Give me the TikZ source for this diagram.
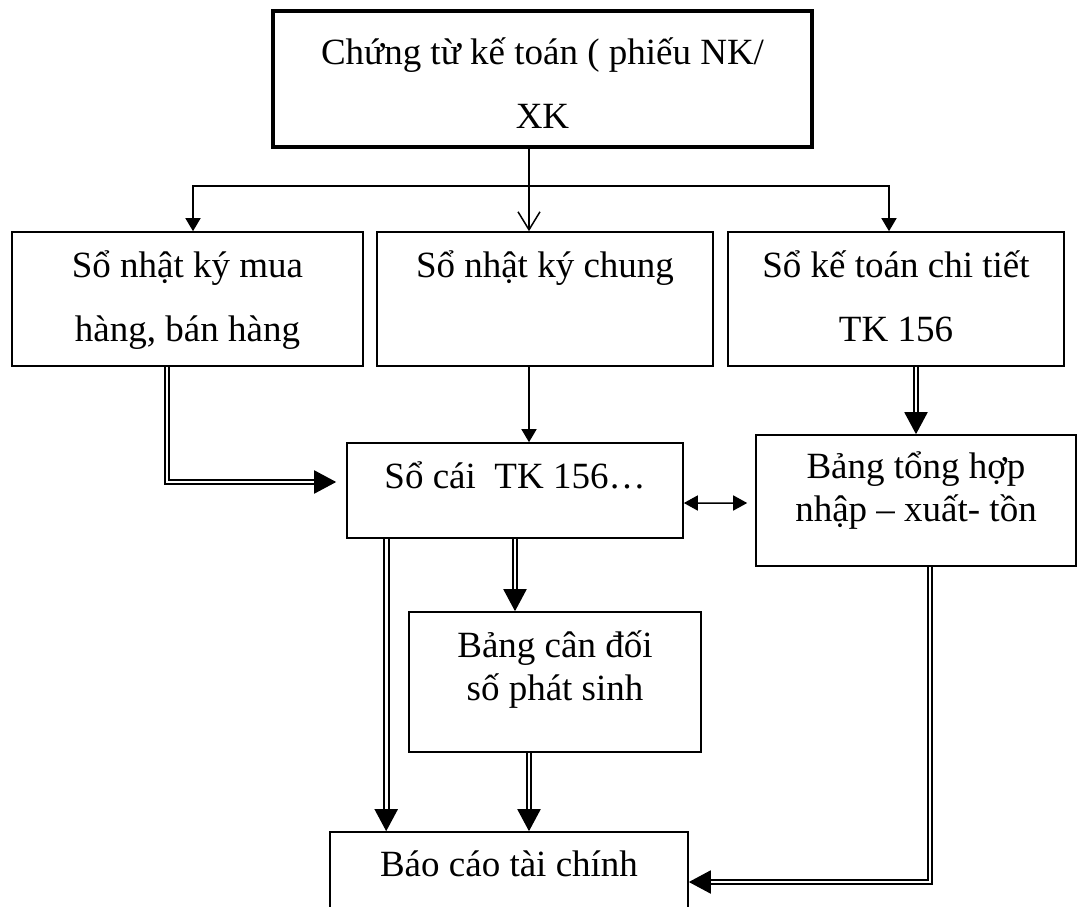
\documentclass[tikz,border=0pt]{standalone}
\usepackage{fontspec}
\setmainfont{Liberation Serif}
\usetikzlibrary{positioning}
\usetikzlibrary{arrows.meta}

% text of a box: width, height, first baseline, lines
\newcommand{\boxtext}[4]{\parbox[c][#2][t]{#1}{\centering\rule{0pt}{#3}#4}}

\begin{document}
\begin{tikzpicture}[x=1bp,y=-1bp,
	box/.style={draw,rectangle,line width=1.6bp,inner sep=0pt,
		font=\fontsize{37bp}{64bp}\selectfont},
	tight/.style={font=\fontsize{37bp}{43bp}\selectfont},
	thickbox/.style={box,line width=4.5bp},
	arr/.style={line width=1.5bp,-{Triangle[length=13bp,width=15bp]}},
	openarr/.style={line width=1.5bp,-{Straight Barb[length=18bp,width=22bp]}},
	botharr/.style={line width=1.5bp,{Triangle[length=14bp,width=15bp]}-{Triangle[length=14bp,width=15bp]}},
	dbl/.style={double,double distance=2.8bp,line width=2bp,-{Triangle[length=22bp,width=23bp]}}]
	\useasboundingbox (0,0) rectangle (1082,907);

	\node[thickbox] (chungtu) at (542.5,79) {\boxtext{539bp}{136bp}{53bp}{Chứng từ kế toán ( phiếu NK/\\XK}};
	\node[box] (nkmua) at (187.5,299) {\boxtext{351bp}{134bp}{45bp}{Sổ nhật ký mua\\hàng, bán hàng}};
	\node[box] (nkchung) at (545,299) {\boxtext{336bp}{134bp}{45bp}{Sổ nhật ký chung}};
	\node[box] (ktct) at (896,299) {\boxtext{336bp}{134bp}{45bp}{Sổ kế toán chi tiết\\TK 156}};
	\node[box] (socai) at (515,490.5) {\boxtext{336bp}{95bp}{45bp}{Sổ cái\ \ TK 156…}};
	\node[box,tight] (bangth) at (916,500.5) {\boxtext{320bp}{131bp}{43bp}{Bảng tổng hợp\\nhập – xuất- tồn}};
	\node[box,tight] (bangcd) at (555,682) {\boxtext{292bp}{140bp}{45bp}{Bảng cân đối\\số phát sinh}};
	\node[box] (baocao) at (509,882) {\boxtext{358bp}{100bp}{44bp}{Báo cáo tài chính}};

	\coordinate (fork) at (529,186);
	\coordinate (socaileft) at ([xshift=40bp]socai.south west);

	%\draw (chungtu.south -| fork) -- (fork);
	\draw[openarr] (chungtu.south -| fork) -- (nkchung.north -| fork);
	\draw[arr] (fork) -| ([xshift=5.5bp]nkmua.north);
	\draw[arr] (fork) -| ([xshift=-7bp]ktct.north);
	\draw[arr] (fork |- nkchung.south) -- (fork |- socai.north);
	\draw[dbl] ([xshift=-20.5bp]nkmua.south) |- ([xshift=-10bp,yshift=8.5bp]socai.west);
	\draw[dbl] (ktct.south -| bangth.north) -- (bangth.north);
	\draw[botharr,shorten >=8bp] ([yshift=-12.5bp]socai.east) -- ([yshift=-2.5bp]bangth.west);
	\draw[dbl] (socaileft) -- (socaileft |- baocao.north);
	\draw[dbl] (socai.south) -- (socai.south |- bangcd.north);
	\draw[dbl] (fork |- bangcd.south) -- (fork |- baocao.north);
	\draw[dbl] ([xshift=14bp]bangth.south) |- (baocao.east);
\end{tikzpicture}
\end{document}
